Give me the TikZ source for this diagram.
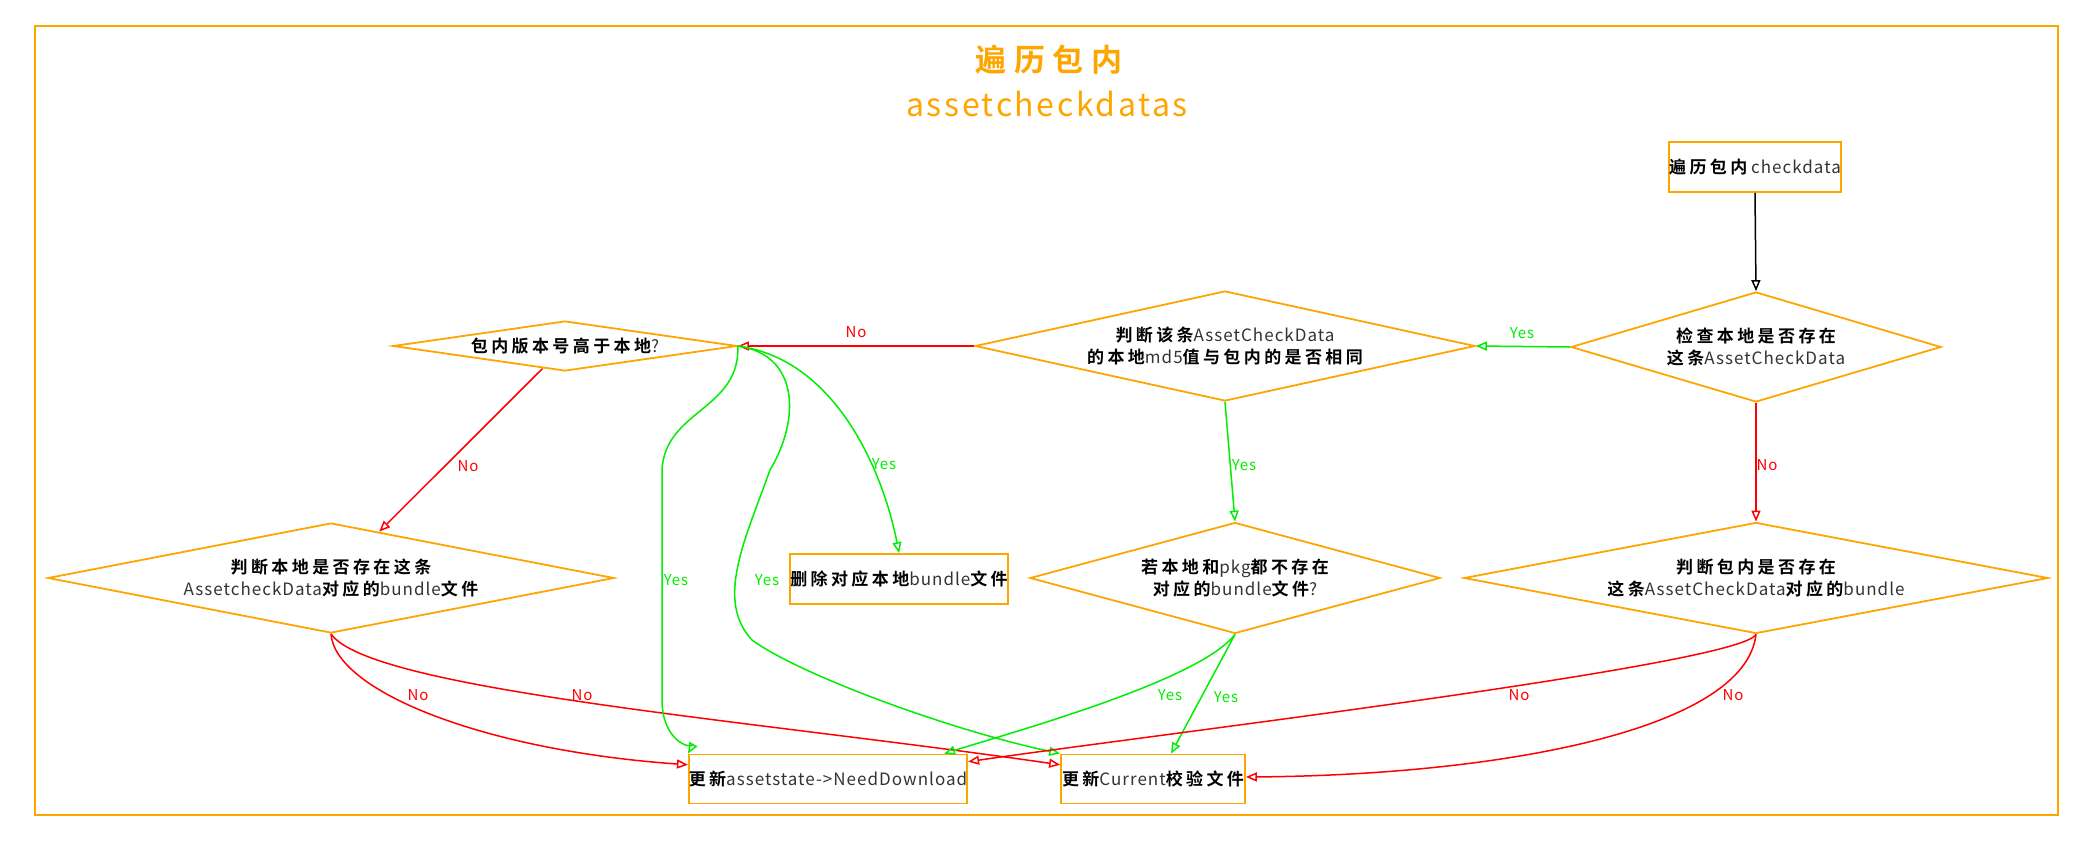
\documentclass[tikz,border=0pt]{standalone}
\usepackage{fontspec}
\setmainfont{Noto Sans CJK SC}
\newfontfamily\zhb{Noto Sans CJK SC Bold}[LetterSpace=20]
\newfontfamily\enf{Noto Sans CJK SC}[LetterSpace=6]
\newfontfamily\ttlzh{Noto Sans CJK SC Bold}[LetterSpace=25]
\newfontfamily\ttlen{Noto Sans CJK SC}[LetterSpace=8]
\usetikzlibrary{shapes.geometric,arrows.meta,calc}
\definecolor{cOrg}{HTML}{FFA500}
\definecolor{cGrn}{HTML}{00EE00}
\definecolor{cRed}{HTML}{FF0000}
\newcommand\ZH[1]{{\zhb #1}}
\newcommand\EN[1]{{\enf\color{black!80}#1}}
\newcommand\nodefont{\fontsize{17}{22}\selectfont}
\newcommand\labfont{\enf\fontsize{15}{18}\selectfont}
\tikzset{
  box/.style={draw=cOrg, line width=1.8pt, rectangle, inner sep=0pt, font=\nodefont},
  dia/.style={draw=cOrg, line width=1.8pt, diamond, inner sep=-6pt, align=center, font=\nodefont},
  tipo/.style={-{Triangle[open,length=11pt,width=9pt]}},
  gline/.style={draw=cGrn, line width=1.5pt, tipo},
  rline/.style={draw=cRed, line width=1.5pt, tipo},
  bline/.style={draw=black, line width=1.5pt, tipo},
  glab/.style={font=\labfont, text=cGrn, inner sep=1pt},
  rlab/.style={font=\labfont, text=cRed, inner sep=1pt}
}
\begin{document}
\begin{tikzpicture}[x=1pt,y=-1pt]
\useasboundingbox (0,0) rectangle (2075,843);
% container
\draw[draw=cOrg, line width=2pt] (35,26) rectangle (2058,815);
\node[text=cOrg, font=\ttlzh\fontsize{31}{36}\selectfont, inner sep=0pt] (t1) at (1049,60) {遍历包内};
\node[text=cOrg, font=\ttlen\fontsize{32}{36}\selectfont, inner sep=0pt] (t2) at (1047,104) {assetcheckdatas};

% nodes
\node[box, minimum width=168, minimum height=50] (start) at (1755,167) {\ZH{遍历包内} \EN{checkdata}};
\node[dia, shape aspect=3.364, minimum width=370, minimum height=110] (d2) at (1756,347) {\ZH{检查本地是否存在}\\\ZH{这条}\EN{AssetCheckData}};
\node[dia, shape aspect=4.545, minimum width=500, minimum height=110] (d3) at (1225,346) {\ZH{判断该条}\EN{AssetCheckData}\\\ZH{的本地}\EN{md5}\ZH{值与包内的是否相同}};
\node[dia, shape aspect=6.88, minimum width=344, minimum height=50] (d4) at (565,346) {\ZH{包内版本号高于本地}\EN{?}};
\node[dia, shape aspect=5.145, minimum width=566, minimum height=110] (d5) at (331,578) {\ZH{判断本地是否存在这条}\\\EN{AssetcheckData}\ZH{对应的}\EN{bundle}\ZH{文件}};
\node[box, minimum width=215, minimum height=50] (del) at (899,579) {\ZH{删除对应本地}\EN{bundle}\ZH{文件}};
\node[dia, shape aspect=3.694, minimum width=410, minimum height=111] (d7) at (1235,578) {\ZH{若本地和}\EN{pkg}\ZH{都不存在}\\\ZH{对应的}\EN{bundle}\ZH{文件}\EN{?}};
\node[dia, shape aspect=5.261, minimum width=584, minimum height=111] (d8) at (1756,578) {\ZH{判断包内是否存在}\\\ZH{这条}\EN{AssetCheckData}\ZH{对应的}\EN{bundle}};
\node[box, minimum width=256, minimum height=49] (nd) at (828,779) {\ZH{更新}\EN{assetstate->NeedDownload}};
\node[box, minimum width=184, minimum height=49] (cur) at (1153,779) {\ZH{更新}\EN{Current}\ZH{校验文件}};

% connectors
\draw[bline] (start.south) -- (d2.north);
\draw[gline] (d2.west) -- (d3.east);
\node[glab] (l1) at (1522,333) {Yes};
\draw[rline] (d3.west) -- (d4.east);
\node[rlab] (l2) at (856,332) {No};
\draw[rline] ($(d4.south)!0.13!(d4.west)$) -- ($(d5.north)!0.17!(d5.east)$);
\node[rlab] (l3) at (468,466) {No};
\draw[gline] (d4.east) .. controls (840,360) and (885,480) .. (del.north);
\node[glab] (l4) at (884,464) {Yes};
\draw[gline] (d3.south) -- (d7.north);
\node[glab] (l5) at (1244,465) {Yes};
\draw[rline] (d2.south) -- (d8.north);
\node[rlab] (l6) at (1767,465) {No};

\draw[rline] (d5.south) .. controls (335,690) and (480,750) .. ($(nd.north west)!0.22!(nd.south west)$);
\node[rlab] (l7) at (418,695) {No};
\draw[rline] (d5.south) .. controls (370,690) and (750,720) .. ($(cur.north west)!0.22!(cur.south west)$);
\node[rlab] (l8) at (582,695) {No};

\draw[gline] (d4.east) .. controls (740,410) and (665,410) .. (662,470) -- (662,700) .. controls (662,740) and (690,750) .. (nd.north west);
\node[glab] (l9) at (676,580) {Yes};
\draw[gline] (d4.east) .. controls (800,355) and (800,420) .. (770,470) .. controls (745,540) and (715,600) .. (752,640) .. controls (800,675) and (950,730) .. (cur.north west);
\node[glab] (l10) at (767,580) {Yes};

\draw[gline] (d7.south) .. controls (1200,680) and (1020,730) .. ($(nd.north east)+(-24,0)$);
\node[glab] (l11) at (1170,695) {Yes};
\draw[gline] (d7.south) -- ($(cur.north)+(18,0)$);
\node[glab] (l12) at (1226,697) {Yes};

\draw[rline] (d8.south) .. controls (1740,665) and (1150,735) .. ($(nd.north east)!0.16!(nd.south east)$);
\node[rlab] (l13) at (1519,695) {No};
\draw[rline] (d8.south) .. controls (1745,730) and (1500,775) .. ($(cur.east)+(0,-2)$);
\node[rlab] (l14) at (1733,695) {No};
\end{tikzpicture}
\end{document}
